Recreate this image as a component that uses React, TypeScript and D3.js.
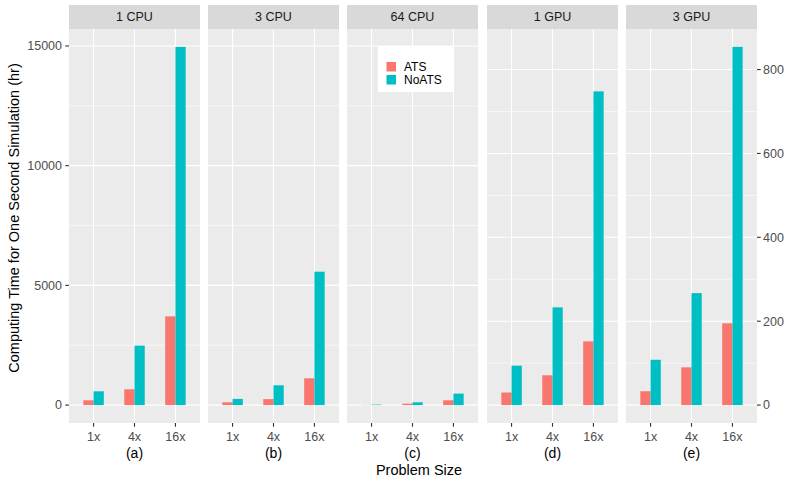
import React from "react";
import * as d3 from "d3";

const panels = ["1 CPU", "3 CPU", "64 CPU", "1 GPU", "3 GPU"];
const panelTags = ["(a)", "(b)", "(c)", "(d)", "(e)"];
const panelAxis = ["left", "left", "left", "right", "right"];
const sizes = ["1x", "4x", "16x"];
const seriesNames = ["ATS", "NoATS"];
const seriesColors = ["#F8766D", "#00BFC4"];

const atsValues = [
  [200, 660, 3706],
  [117, 250, 1120],
  [8, 60, 200],
  [30, 71, 152],
  [33, 90, 195],
];
const noAtsValues = [
  [576, 2483, 14960],
  [258, 826, 5572],
  [20, 117, 480],
  [94, 233, 748],
  [108, 267, 854],
];

const leftTicks = [0, 5000, 10000, 15000];
const leftMinor = [2500, 7500, 12500];
const rightTicks = [0, 200, 400, 600, 800];
const rightMinor = [100, 300, 500, 700];

const W = 789;
const H = 482;
const FONT = "'Liberation Sans', Arial, Helvetica, sans-serif";

export default function App() {
  const panelX = [69, 208, 347, 487, 626];
  const panelW = 131;
  const top = 29;
  const bottom = 423;
  const stripTop = 5;

  const leftMax = d3.max(noAtsValues.slice(0, 3).flat())!;
  const rightMax = d3.max(noAtsValues.slice(3).flat())!;
  const yLeft = d3
    .scaleLinear()
    .domain([-0.05 * leftMax, leftMax * 1.05])
    .range([bottom, top]);
  const yRight = d3
    .scaleLinear()
    .domain([-0.05 * rightMax, rightMax * 1.05])
    .range([bottom, top]);

  return (
    <svg width={W} height={H} style={{ position: "absolute", left: 0, top: 0 }} fontFamily={FONT}>
      <rect x={0} y={0} width={W} height={H} fill="#ffffff" />
      {panels.map((p, i) => {
        const x0 = panelX[i];
        const xs = d3.scalePoint<string>().domain(sizes).range([x0, x0 + panelW]).padding(0.6);
        const step = xs.step();
        const y = panelAxis[i] === "left" ? yLeft : yRight;
        const major = panelAxis[i] === "left" ? leftTicks : rightTicks;
        const minor = panelAxis[i] === "left" ? leftMinor : rightMinor;
        return (
          <g key={p}>
            <rect x={x0} y={stripTop} width={panelW} height={top - stripTop} fill="#D9D9D9" />
            <text x={x0 + panelW / 2} y={(stripTop + top) / 2 + 4.3} textAnchor="middle" fontSize={12.5} fill="#1A1A1A">
              {p}
            </text>
            <rect x={x0} y={top} width={panelW} height={bottom - top} fill="#EBEBEB" />
            {minor.map((t) => (
              <line key={"mi" + t} x1={x0} x2={x0 + panelW} y1={y(t)} y2={y(t)} stroke="#ffffff" strokeWidth={0.55} />
            ))}
            {major.map((t) => (
              <line key={"ma" + t} x1={x0} x2={x0 + panelW} y1={y(t)} y2={y(t)} stroke="#ffffff" strokeWidth={1.1} />
            ))}
            {sizes.map((s) => (
              <line key={"v" + s} x1={xs(s)} x2={xs(s)} y1={top} y2={bottom} stroke="#ffffff" strokeWidth={1.1} />
            ))}
            {sizes.map((s, j) => {
              const cx = xs(s)!;
              const bw = step * 0.25;
              const vals = [atsValues[i][j], noAtsValues[i][j]];
              return vals.map((v, k) => (
                <rect
                  key={s + k}
                  x={cx - bw + k * bw}
                  y={y(v)}
                  width={bw}
                  height={y(0) - y(v)}
                  fill={seriesColors[k]}
                />
              ));
            })}
            {sizes.map((s) => (
              <g key={"t" + s}>
                <line x1={xs(s)} x2={xs(s)} y1={bottom} y2={bottom + 3.7} stroke="#333333" strokeWidth={1.1} />
                <text x={xs(s)} y={bottom + 18} textAnchor="middle" fontSize={12.5} fill="#4D4D4D">
                  {s}
                </text>
              </g>
            ))}
            <text x={x0 + panelW / 2} y={458} textAnchor="middle" fontSize={14} fill="#000000">
              {panelTags[i]}
            </text>
          </g>
        );
      })}
      {leftTicks.map((t) => (
        <g key={"lt" + t}>
          <line x1={65.3} x2={69} y1={yLeft(t)} y2={yLeft(t)} stroke="#333333" strokeWidth={1.1} />
          <text x={62} y={yLeft(t) + 4.4} textAnchor="end" fontSize={12.5} fill="#4D4D4D">
            {t}
          </text>
        </g>
      ))}
      {rightTicks.map((t) => (
        <g key={"rt" + t}>
          <line x1={757} x2={760.7} y1={yRight(t)} y2={yRight(t)} stroke="#333333" strokeWidth={1.1} />
          <text x={763} y={yRight(t) + 4.4} textAnchor="start" fontSize={12.5} fill="#4D4D4D">
            {t}
          </text>
        </g>
      ))}
      <text x={419} y={475} textAnchor="middle" fontSize={14.5} fill="#000000">
        Problem Size
      </text>
      <text
        transform={`translate(19, 218) rotate(-90)`}
        textAnchor="middle"
        fontSize={14.5}
        fill="#000000"
      >
        Computing Time for One Second Simulation (hr)
      </text>
      <g>
        <rect x={378} y={46} width={76} height={46} fill="#ffffff" />
        {seriesNames.map((n, k) => (
          <g key={n}>
            <rect x={386.5} y={62 + k * 13} width={9.5} height={9.5} fill={seriesColors[k]} />
            <text x={404} y={71 + k * 13} fontSize={12} fill="#000000">
              {n}
            </text>
          </g>
        ))}
      </g>
    </svg>
  );
}
